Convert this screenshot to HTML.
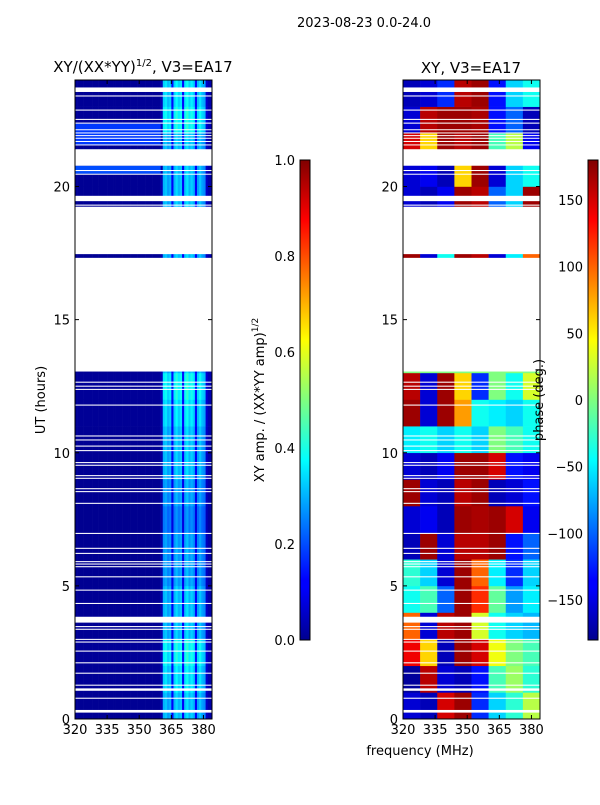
<!DOCTYPE html>
<html><head><meta charset="utf-8"><style>
body{margin:0;background:#fff;}
svg text{font-family:"DejaVu Sans","Liberation Sans",sans-serif;fill:#000;}
</style></head><body>
<svg id="fig" width="600" height="800" viewBox="0 0 600 800" xmlns="http://www.w3.org/2000/svg">
<defs>
<linearGradient id="jetV" x1="0" y1="1" x2="0" y2="0">
<stop offset="0" stop-color="#00008f"/><stop offset="0.11" stop-color="#0000ff"/><stop offset="0.125" stop-color="#0000ff"/>
<stop offset="0.375" stop-color="#00ffff"/><stop offset="0.625" stop-color="#ffff00"/><stop offset="0.875" stop-color="#ff0000"/><stop offset="1" stop-color="#800000"/>
</linearGradient>
</defs>
<text x="364" y="27" font-size="13" text-anchor="middle">2023-08-23 0.0-24.0</text>
<text x="143" y="72" font-size="15" text-anchor="middle">XY/(XX*YY)<tspan font-size="10" dy="-6">1/2</tspan><tspan dy="6">, V3=EA17</tspan></text>
<text x="471" y="73" font-size="15" text-anchor="middle">XY, V3=EA17</text>
<text transform="translate(45,400) rotate(-90)" font-size="13" text-anchor="middle">UT (hours)</text>
<text x="420" y="755" font-size="13" text-anchor="middle">frequency (MHz)</text>
<g id="left"></g>
<g id="right"></g>
<g id="axes"></g>
<rect x="300" y="160" width="10" height="480" fill="url(#jetV)" stroke="#000" stroke-width="1"/>
<rect x="588" y="160" width="10" height="480" fill="url(#jetV)" stroke="#000" stroke-width="1"/>
<text transform="translate(264,400) rotate(-90)" font-size="13" text-anchor="middle">XY amp. / (XX*YY amp)<tspan font-size="9" dy="-6">1/2</tspan></text>
<text transform="translate(543,400) rotate(-90)" font-size="13" text-anchor="middle">phase (deg.)</text>
</svg>
<script>
// ---- data ----
const freqMin = 320, freqMax = 384, tMin = 0, tMax = 24;
const xTicks = [320, 335, 350, 365, 380];
const yTicks = [0, 5, 10, 15, 20];
const ampTicks = [0.0, 0.2, 0.4, 0.6, 0.8, 1.0];
const phaseTicks = [-150, -100, -50, 0, 50, 100, 150];
// amplitude per 1 MHz channel (320..383)
const ampProfile = [0.02,0.02,0.02,0.02,0.02,0.02,0.02,0.02,0.02,0.02,0.02,0.02,0.02,0.02,0.02,0.02,
  0.02,0.02,0.02,0.02,0.02,0.02,0.02,0.02,0.02,0.02,0.02,0.02,0.02,0.02,0.02,0.02,
  0.02,0.02,0.02,0.02,0.02,0.02,0.02,0.02,0.05,0.3,0.32,0.28,0.3,0.12,0.3,0.34,
  0.3,0.32,0.12,0.32,0.35,0.3,0.33,0.3,0.12,0.28,0.32,0.28,0.26,0.07,0.04,0.04];
// per-hour gain
const ampHourGain = [1,1.1,1.2,1,1,0.9,0.9,0.8,0.9,1,1,1.1,1.2,1,1,1,1,1,1,1,1,1,1.2,1.1];
// broadband bands [start h, end h, value]
const ampBands = [[20.48,20.78,0.2],[21.58,22.36,0.18]];
// phase (deg) per hour (rows) x 8 MHz band (cols)
const phaseRows = [
 [-150,-160,150,170,-120,-60,-30,20],
 [-170,160,-150,-160,-130,-20,10,-30],
 [140,60,-160,170,150,40,0,-20],
 [100,-150,160,170,30,-40,-60,-70],
 [-40,-20,-100,170,120,-10,-80,-50],
 [-30,-60,-150,170,100,-50,-120,-60],
 [-160,170,-150,160,160,170,-130,-100],
 [-150,-140,-160,170,165,170,150,-140],
 [170,-150,-160,160,170,-160,-150,-130],
 [-150,-160,-140,170,170,150,-130,-140],
 [-50,-40,-60,-40,-60,0,-20,-40],
 [170,-150,170,80,-40,-50,-60,-40],
 [160,-150,170,60,-120,0,-40,30],
 [0,0,0,0,0,0,0,0],[0,0,0,0,0,0,0,0],[0,0,0,0,0,0,0,0],[0,0,0,0,0,0,0,0],
 [170,-150,-40,170,160,-150,-50,100],
 [0,0,0,0,0,0,0,0],
 [-150,-160,-140,170,160,-100,-60,170],
 [-150,-140,-160,60,170,-150,-60,-40],
 [150,60,170,160,170,-20,20,-140],
 [-150,160,170,170,165,-130,-100,-160],
 [-160,-150,-120,160,170,-130,-60,-40]];
// flagged (blank) time ranges, hours
const flags = [[0.24,0.34],[0.76,0.8],[1.06,1.15],[1.25,1.29],[1.7,1.74],[2.09,2.13],[2.53,2.57],[2.87,2.91],[2.97,3.01],[3.35,3.39],[3.45,3.49],[3.62,3.84],[4.32,4.36],[4.82,4.86],[5.32,5.36],[5.7,5.74],[5.8,5.84],[5.89,5.93],[6.2,6.24],[6.39,6.43],[6.95,6.99],[8.08,8.12],[8.52,8.56],[8.63,8.67],[9.02,9.06],[9.12,9.16],[9.51,9.55],[9.61,9.65],[10.06,10.1],[10.23,10.27],[10.46,10.5],[10.61,10.65],[11.77,11.81],[12.36,12.4],[12.48,12.52],[12.63,12.67],[13.05,17.32],[17.46,19.24],[19.28,19.32],[19.45,19.65],[20.45,20.48],[20.58,20.62],[20.78,21.4],[21.55,21.58],[21.68,21.71],[21.8,21.83],[21.9,21.93],[22.0,22.03],[22.12,22.15],[22.36,22.4],[22.5,22.54],[22.85,22.89],[23.38,23.42],[23.55,23.72]];

// ---- scales ----
const NS = "http://www.w3.org/2000/svg";
const panels = [{x0:75,x1:212,g:'left'},{x0:403,x1:540,g:'right'}];
const yTop = 80, yBot = 719;
function yScale(h){ return yBot - (h - tMin) / (tMax - tMin) * (yBot - yTop); }
function xScale(p, f){ return p.x0 + (f - freqMin) / (freqMax - freqMin) * (p.x1 - p.x0); }
function jet(t){
  t = Math.max(0, Math.min(1, t));
  const c = v => Math.round(255 * Math.max(0, Math.min(1, v)));
  return `rgb(${c(1.5 - Math.abs(4*t - 3))},${c(1.5 - Math.abs(4*t - 2))},${c(1.5 - Math.abs(4*t - 1))})`;
}
function rect(parent, x, y, w, h, fill){
  const r = document.createElementNS(NS, 'rect');
  r.setAttribute('x', x); r.setAttribute('y', y);
  r.setAttribute('width', w); r.setAttribute('height', h);
  r.setAttribute('fill', fill);
  parent.appendChild(r);
  return r;
}
function line(parent, x1, y1, x2, y2){
  const l = document.createElementNS(NS, 'line');
  l.setAttribute('x1', x1); l.setAttribute('y1', y1); l.setAttribute('x2', x2); l.setAttribute('y2', y2);
  l.setAttribute('stroke', '#000'); l.setAttribute('stroke-width', 1);
  parent.appendChild(l);
  return l;
}
function text(parent, x, y, s, anchor){
  const t = document.createElementNS(NS, 'text');
  t.setAttribute('x', x); t.setAttribute('y', y);
  t.setAttribute('font-size', 13); t.setAttribute('text-anchor', anchor);
  t.textContent = s;
  parent.appendChild(t);
  return t;
}

// ---- left amplitude heatmap ----
const L = panels[0], gL = document.getElementById('left');
for (let h = 0; h < ampHourGain.length; h++) {
  for (let c = 0; c < ampProfile.length; c++) {
    const xa = xScale(L, freqMin + c), xb = xScale(L, freqMin + c + 1);
    const r = rect(gL, xa, yScale(h + 1), xb - xa + 0.3, yScale(h) - yScale(h + 1) + 0.3, jet(ampProfile[c] * ampHourGain[h]));
    
    
  }
}
ampBands.forEach(b => {
  const r = rect(gL, L.x0, yScale(b[1]), xScale(L, 360) - L.x0, yScale(b[0]) - yScale(b[1]), jet(b[2]));
  
  
});

// ---- right phase heatmap ----
const R = panels[1], gR = document.getElementById('right');
const bandW = (freqMax - freqMin) / 8;
for (let h = 0; h < phaseRows.length; h++) {
  for (let c = 0; c < phaseRows[h].length; c++) {
    const xa = xScale(R, freqMin + c * bandW), xb = xScale(R, freqMin + (c + 1) * bandW);
    const r = rect(gR, xa, yScale(h + 1), xb - xa + 0.3, yScale(h) - yScale(h + 1) + 0.3, jet((phaseRows[h][c] + 180) / 360));
    
    
  }
}

// ---- flags ----
panels.forEach(p => {
  const g = document.getElementById(p.g);
  flags.forEach(f => {
    const r = rect(g, p.x0, yScale(f[1]), p.x1 - p.x0, Math.max(1, yScale(f[0]) - yScale(f[1])), '#fff');
    
    
  });
});

// ---- axes ----
const gA = document.getElementById('axes');
panels.forEach(p => {
  const fr = rect(gA, p.x0, yTop, p.x1 - p.x0, yBot - yTop, 'none');
  fr.setAttribute('stroke', '#000');
  
  
  xTicks.forEach(v => {
    const x = xScale(p, v);
    line(gA, x, yBot, x, yBot - 4); line(gA, x, yTop, x, yTop + 4);
    const t = text(gA, x, yBot + 15, String(v), 'middle');
    
    
  });
  yTicks.forEach(v => {
    const y = yScale(v);
    line(gA, p.x0, y, p.x0 + 4, y); line(gA, p.x1, y, p.x1 - 4, y);
    const t = text(gA, p.x0 - 5, y + 5, String(v), 'end');
    
    
  });
});
ampTicks.forEach(v => {
  const y = 640 - v * 480;
  line(gA, 300, y, 304, y); line(gA, 310, y, 306, y);
  const t = text(gA, 295, y + 5, v.toFixed(1), 'end');
  
  
});
phaseTicks.forEach(v => {
  const y = 400 - v * 480 / 360;
  line(gA, 588, y, 592, y); line(gA, 598, y, 594, y);
  const t = text(gA, 583, y + 5, v < 0 ? '\u2212' + Math.abs(v) : String(v), 'end');
  
  
});
</script>
</body></html>
